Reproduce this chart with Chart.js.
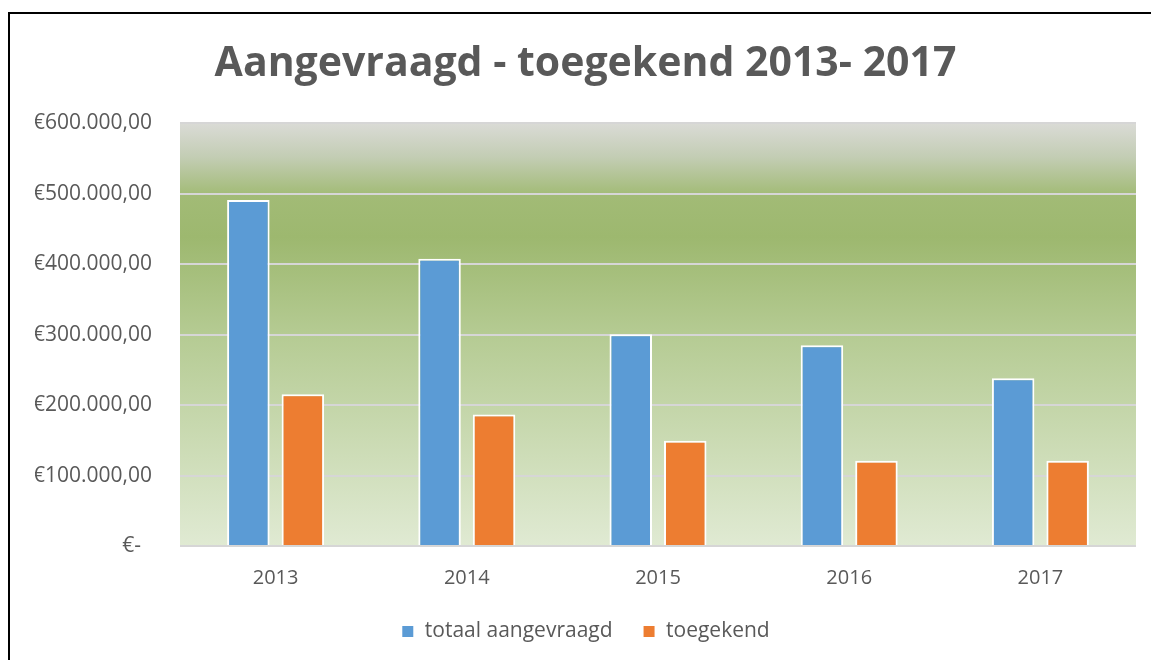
<!DOCTYPE html>
<html>
<head>
<meta charset="utf-8">
<script src="https://cdn.jsdelivr.net/npm/chart.js@4.4.1/dist/chart.umd.min.js"></script>
<style>
    html, body { margin: 0; padding: 0; background: #fff; }
    #wrap { position: relative; width: 1151px; height: 660px; overflow: hidden; }
    #frame { position: absolute; left: 8px; top: 12px; width: 1200px; height: 700px;
             border-left: 2px solid #000; border-top: 2px solid #000; pointer-events: none; }
    canvas { position: absolute; left: 0; top: 0; }
</style>
</head>
<body>
<div id="wrap">
    <canvas id="chart" width="1151" height="660"></canvas>
    <div id="frame"></div>
</div>
<script>
const years = ['2013', '2014', '2015', '2016', '2017'];
const aangevraagd = [491000, 407500, 300500, 285000, 238000];
const toegekend = [215500, 186500, 149500, 121000, 121000];
const yTicks = [0, 100000, 200000, 300000, 400000, 500000, 600000];

const textColor = '#595959';

// Excel style currency labels: €600.000,00 and €- for zero
function euro(v) {
    if (v === 0) return '€-  ';
    const whole = Math.round(v).toString().replace(/\B(?=(\d{3})+(?!\d))/g, '.');
    return '€' + whole + ',00';
}

// green gradient behind the plot area
const plotBackground = {
    id: 'plotBackground',
    beforeDraw(chart) {
        const { ctx, chartArea: a } = chart;
        const g = ctx.createLinearGradient(0, a.top, 0, a.bottom);
        g.addColorStop(0, '#dadbd6');
        g.addColorStop(0.08, '#c3cdb4');
        g.addColorStop(0.17, '#a2bb76');
        g.addColorStop(0.27, '#9db86f');
        g.addColorStop(0.5, '#b5cb93');
        g.addColorStop(1, '#e0ead3');
        ctx.save();
        ctx.fillStyle = g;
        ctx.fillRect(a.left, a.top, a.right - a.left, a.bottom - a.top);
        ctx.restore();
    }
};

new Chart(document.getElementById('chart'), {
    type: 'bar',
    data: {
        labels: years,
        datasets: [{
            label: 'totaal aangevraagd',
            data: aangevraagd,
            backgroundColor: '#5b9bd5',
            borderColor: '#ffffff',
            borderWidth: 2
        }, {
            label: 'toegekend',
            data: toegekend,
            backgroundColor: '#ed7d31',
            borderColor: '#ffffff',
            borderWidth: 2
        }]
    },
    options: {
        responsive: false,
        animation: false,
        categoryPercentage: 0.57,
        barPercentage: 0.78,
        layout: { padding: { left: 35, right: 15, top: 0, bottom: 8 } },
        scales: {
            x: {
                grid: { display: false },
                border: { display: false },
                ticks: { color: textColor, font: { family: 'Open Sans', size: 20 }, padding: 12 },
                afterFit(scale) { scale.height = 45; }
            },
            y: {
                min: 0,
                max: 600000,
                afterBuildTicks(scale) { scale.ticks = yTicks.map(v => ({ value: v })); },
                grid: { color: '#d6d6d6', lineWidth: 2, drawTicks: false },
                border: { display: false },
                ticks: {
                    color: textColor,
                    font: { family: 'Open Sans', size: 21 },
                    padding: 28,
                    callback: v => euro(v)
                },
                afterFit(scale) { scale.width = 145; }
            }
        },
        plugins: {
            title: {
                display: true,
                text: 'Aangevraagd - toegekend 2013- 2017',
                color: textColor,
                font: { family: 'Open Sans', size: 41, weight: 'bold' },
                padding: { top: 40, bottom: 34 }
            },
            legend: {
                position: 'bottom',
                labels: {
                    color: textColor,
                    font: { family: 'Open Sans', size: 21 },
                    boxWidth: 13,
                    boxHeight: 13,
                    padding: 30
                }
            },
            tooltip: { enabled: false }
        }
    },
    plugins: [plotBackground]
});
</script>
</body>
</html>
